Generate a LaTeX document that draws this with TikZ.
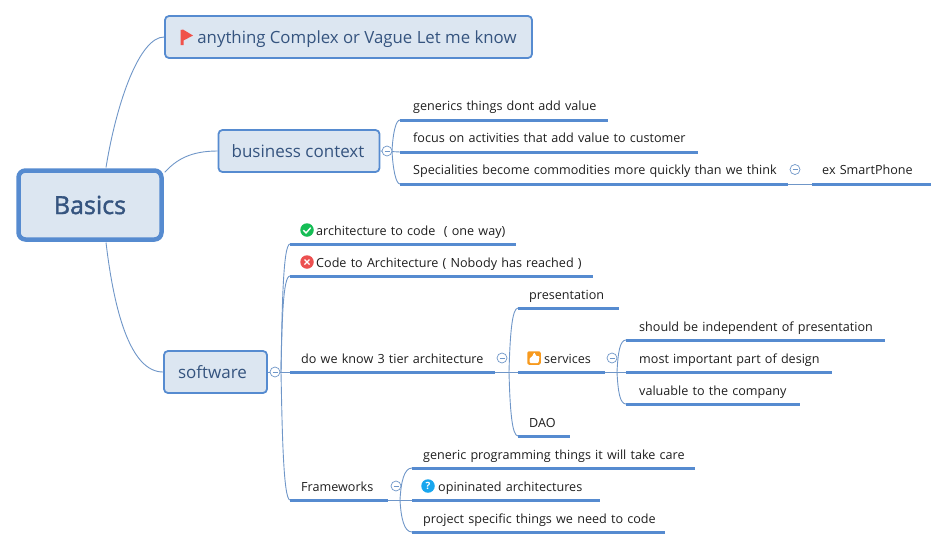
\documentclass[tikz,border=0pt]{standalone}
\usepackage{fontspec}
\setmainfont{Open Sans}
\newfontfamily\semibold[FakeBold=1.5]{Open Sans}
\definecolor{bord}{HTML}{568BD0}
\definecolor{boxfill}{HTML}{DCE6F1}
\definecolor{conn}{HTML}{6F96C8}
\definecolor{titlec}{HTML}{35547F}
\definecolor{txt}{HTML}{1E1E1E}
\definecolor{flagred}{HTML}{F0524A}
\definecolor{okgreen}{HTML}{15BD55}
\definecolor{badred}{HTML}{EC5050}
\definecolor{thumbor}{HTML}{F79A1E}
\definecolor{askblue}{HTML}{18A6EE}
\tikzset{
  mainbox/.style={draw=bord,fill=boxfill,rounded corners=4pt,line width=1.8pt,text=titlec,font=\fontsize{17}{20}\selectfont,inner sep=0pt},
  rootbox/.style={mainbox,line width=4.5pt,rounded corners=7pt,font=\semibold\fontsize{25}{28}\selectfont},
  topic/.style={anchor=south west,inner xsep=0pt,inner ysep=5pt,text height=10pt,text depth=3.4pt,align=left,text=txt,font=\fontsize{12.6}{15}\selectfont},
  bar/.style={draw=bord,line width=3pt},
  linkc/.style={draw=conn,line width=0.9pt},
  fold/.style={circle,draw=conn,fill=white,line width=0.7pt,minimum size=10pt,inner sep=0pt,path picture={\draw[conn,line width=0.7pt] ([xshift=-2.5pt]path picture bounding box.center)--([xshift=2.5pt]path picture bounding box.center);}},
  badge/.style={circle,minimum size=13.5pt,inner sep=0pt},
}
\newcommand{\tp}[6]{%
  \pgfmathsetmacro\tpwidth{#3-#2}%
  \node[topic,text width=\tpwidth pt] (#1) at (#2,#4) {\hspace*{#5pt}\mbox{#6}};
  \draw[bar] (#1.south west) -- (#1.south east);
}
\begin{document}
\begin{tikzpicture}[x=1pt,y=-1pt]
\useasboundingbox (0,0) rectangle (948,549);
% main boxes
\node[rootbox,minimum width=143pt,minimum height=69pt] (root) at (90,205) {Basics};
\node[mainbox,minimum width=367pt,minimum height=42pt,font=\fontsize{16.8}{20}\selectfont] (flagb) at (348.5,37) {\hspace*{17pt}\raisebox{-6pt}[0pt][0pt]{anything Complex or Vague Let me know}};
\node[mainbox,minimum width=161pt,minimum height=42pt] (biz) at (299,151) {business context\hspace*{2pt}};
\node[mainbox,minimum width=103pt,minimum height=42pt] (soft) at (215.5,372) {software\hspace*{6pt}};
% root links
\draw[linkc] (106,167.5) coordinate (r1) .. controls (117,100) and (140,37) .. (flagb.west);
\draw[linkc] (root.north east) ++(1,4) coordinate (r2) .. controls (176,160) and (190,151) .. (biz.west);
\draw[linkc] (106,242.5) coordinate (r3) .. controls (114,310) and (130,372) .. (soft.west);
% topics
\tp{ta}{400}{608}{120}{13}{\raisebox{1pt}{generics things dont add value}}
\tp{tb}{400}{698}{152}{13}{\raisebox{1pt}{focus on activities that add value to customer}}
\tp{tc}{400}{788}{184}{13}{\raisebox{1pt}{Specialities become commodities more quickly than we think}}
\tp{td}{812}{931}{184}{10}{\raisebox{1pt}{ex SmartPhone}}
\tp{sa}{290}{516}{244}{26}{architecture to code\ \ ( one way)}
\tp{sb}{290}{593}{276}{26}{Code to Architecture ( Nobody has reached )}
\tp{sc}{290}{495}{372}{11}{do we know 3 tier architecture}
\tp{sd}{290}{388}{500}{11}{Frameworks}
\tp{pa}{518}{619}{308}{11}{presentation}
\tp{pb}{518}{605}{372}{26}{services}
\tp{pc}{518}{570}{436}{11}{DAO}
\tp{qa}{626}{885}{340}{13}{should be independent of presentation}
\tp{qb}{626}{832}{372}{13}{most important part of design}
\tp{qc}{626}{800}{404}{13}{valuable to the company}
\tp{fa}{412}{695}{468}{11}{generic programming things it will take care}
\tp{fb}{412}{600}{500}{26}{opininated architectures}
\tp{fc}{412}{665}{532}{11}{project specific things we need to code}
% hubs
\coordinate (hb) at (392,151);
\coordinate (hs) at (281,372);
\coordinate (hp) at (509,372);
\coordinate (hq) at (617,372);
\coordinate (hf) at (400,500);
% business branch
\draw[linkc] (biz.east) -- (tb.south west);
\draw[linkc] (hb) .. controls (393,132) and (396,120) .. (ta.south west);
\draw[linkc] (hb) .. controls (393,170) and (396,184) .. (tc.south west);
\draw[linkc] (tc.south east) -- (td.south west);
% software branch
\draw[linkc] (soft.east) -- (sc.south west);
\draw[linkc] (hs) .. controls (282,310) and (283,244) .. (sa.south west);
\draw[linkc] (hs) .. controls (282,320) and (283,276) .. (sb.south west);
\draw[linkc] (hs) .. controls (282,420) and (283,500) .. (sd.south west);
% three-tier branch
\draw[linkc] (sc.south east) -- (pb.south west);
\draw[linkc] (hp) .. controls (510,335) and (512,308) .. (pa.south west);
\draw[linkc] (hp) .. controls (510,410) and (512,436) .. (pc.south west);
% services branch
\draw[linkc] (pb.south east) -- (qb.south west);
\draw[linkc] (hq) .. controls (618,352) and (620,340) .. (qa.south west);
\draw[linkc] (hq) .. controls (618,392) and (620,404) .. (qc.south west);
% frameworks branch
\draw[linkc] (sd.south east) -- (fb.south west);
\draw[linkc] (hf) .. controls (401,482) and (404,468) .. (fa.south west);
\draw[linkc] (hf) .. controls (401,518) and (404,532) .. (fc.south west);
% fold markers
\node[fold] (f1) at (387,151) {};
\node[fold] (f2) at (795,169.5) {};
\node[fold] (f3) at (275,372) {};
\node[fold] (f4) at (502,358) {};
\node[fold] (f5) at (612,358) {};
\node[fold] (f6) at (396,486) {};
% flag
\fill[flagred] (180.5,30) -- (183,29.5) -- (193,35.5) -- (183.5,40.5) -- (183.5,45) -- (180.5,45) -- cycle;
% check badge
\node[badge,fill=okgreen] (ic1) at (307,230) {};
\draw[white,line width=1.4pt] (303.3,230.2) -- (306,233) -- (310.7,227.7);
% cross badge
\node[badge,fill=badred] (ic2) at (307,262) {};
\draw[white,line width=1.4pt] (304.5,259.5) -- (309.5,264.5) (304.5,264.5) -- (309.5,259.5);
% thumb badge
\node[rectangle,rounded corners=2pt,fill=thumbor,minimum size=13.5pt,inner sep=0pt] (ic3) at (534,358) {};
\fill[white,rounded corners=1pt] (529.5,358) -- (532,357) -- (534,352.5) -- (535.5,353.5) -- (535.5,356) -- (539.5,356) -- (538.5,363) -- (529.5,363) -- cycle;
% question badge
\node[badge,fill=askblue,text=white,font=\fontsize{10}{10}\selectfont\bfseries] (ic4) at (428,486) {?};
\end{tikzpicture}
\end{document}
